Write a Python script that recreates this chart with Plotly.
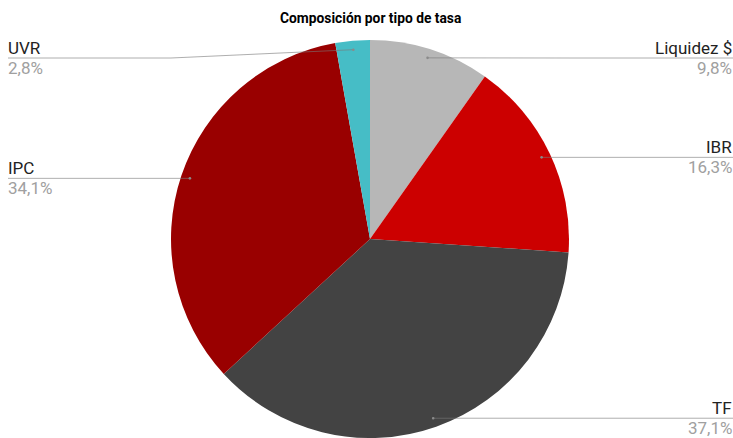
import math
import plotly.graph_objects as go

# Composition by rate type
labels = ["Liquidez $", "IBR", "TF", "IPC", "UVR"]
values = [9.8, 16.3, 37.1, 34.1, 2.8]
colors = ["#b7b7b7", "#cc0000", "#434343", "#990000", "#46bdc6"]

W, H = 733, 438
PIE_TOP = 40          # px from top where the pie starts
CX = 370              # pie centre, px from left

dom_h = H - PIE_TOP
R = dom_h / 2.0
CY = PIE_TOP + R

def px(x):
    return x / W

def py(y):
    return 1 - y / H

fig = go.Figure(go.Pie(
    labels=labels,
    values=values,
    marker=dict(colors=colors, line=dict(width=0)),
    sort=False,
    direction="clockwise",
    rotation=0,
    textinfo="none",
    showlegend=False,
    domain=dict(x=[px(CX - R), px(CX + R)], y=[0, py(PIE_TOP)]),
))

shapes = []
annotations = []
total = sum(values)
cum = 0.0
MIN_LABEL_Y = 58
for lab, v in zip(labels, values):
    mid = (cum + v / 2) / total * 2 * math.pi
    cum += v
    ax = CX + 0.955 * R * math.sin(mid)
    ay = CY - 0.955 * R * math.cos(mid)
    ly = max(ay, MIN_LABEL_Y)
    right = math.sin(mid) >= 0
    if right:
        elbow = CX + R
        edge = W
        tx, xanchor = px(W + 1), "right"
    else:
        elbow = CX - R
        edge = 8
        tx, xanchor = px(6), "left"
    if ly != ay:
        path = f"M {px(ax)},{py(ay)} L {px(elbow)},{py(ly)} L {px(edge)},{py(ly)}"
    else:
        path = f"M {px(ax)},{py(ay)} L {px(edge)},{py(ly)}"
    shapes.append(dict(type="path", xref="paper", yref="paper", path=path,
                       line=dict(color="rgba(120,120,120,0.6)", width=1)))
    shapes.append(dict(type="circle", xref="paper", yref="paper",
                       x0=px(ax - 1.3), x1=px(ax + 1.3), y0=py(ay - 1.3), y1=py(ay + 1.3),
                       fillcolor="#8a8a8a", line=dict(width=0)))
    annotations.append(dict(x=tx, y=py(ly - 10), xref="paper", yref="paper",
                            xanchor=xanchor, yanchor="middle", showarrow=False,
                            text=lab, font=dict(family="Roboto", size=17, color="#222222")))
    pct = f"{v:.1f}".replace(".", ",") + "%"
    annotations.append(dict(x=tx, y=py(ly + 9.5), xref="paper", yref="paper",
                            xanchor=xanchor, yanchor="middle", showarrow=False,
                            text=pct, font=dict(family="Roboto", size=17, color="#a0a0a0")))

annotations.append(dict(x=px(CX), y=py(17.5), xref="paper", yref="paper",
                        xanchor="center", yanchor="middle", showarrow=False,
                        text="<b>Composición por tipo de tasa</b>",
                        font=dict(family="Roboto", size=13.8, color="#000000")))

fig.update_layout(
    width=W, height=H,
    margin=dict(l=0, r=0, t=0, b=0),
    paper_bgcolor="white",
    plot_bgcolor="white",
    shapes=shapes,
    annotations=annotations,
)

fig.write_html("out.html")
